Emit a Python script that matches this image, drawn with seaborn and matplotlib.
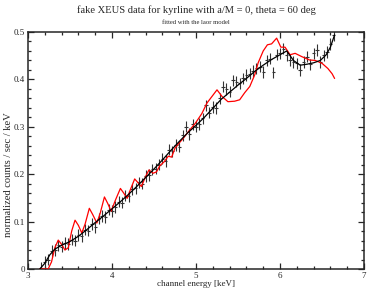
"""
plot.py - fake XEUS kyrline spectrum fitted with the laor model.
"""

import numpy as np
import pandas as pd
import matplotlib
matplotlib.use("Agg")
import matplotlib.pyplot as plt
from matplotlib.ticker import MultipleLocator
import seaborn as sns


# ── Data ──────────────────────────────────────────────────────────────────────

energy = [
    3.16, 3.20, 3.24, 3.28, 3.32, 3.36, 3.40, 3.44, 3.48, 3.52, 3.56, 3.60,
    3.64, 3.68, 3.72, 3.76, 3.80, 3.84, 3.88, 3.92, 3.96, 4.00, 4.04, 4.08,
    4.12, 4.16, 4.20, 4.24, 4.28, 4.32, 4.36, 4.40, 4.44, 4.48, 4.52, 4.56,
    4.60, 4.64, 4.68, 4.72, 4.76, 4.80, 4.84, 4.88, 4.92, 4.96, 5.00, 5.04,
    5.08, 5.12, 5.16, 5.20, 5.24, 5.28, 5.32, 5.36, 5.40, 5.44, 5.48, 5.52,
    5.56, 5.60, 5.64, 5.68, 5.72, 5.76, 5.80, 5.84, 5.88, 5.92, 5.96, 6.00,
    6.04, 6.08, 6.12, 6.16, 6.20, 6.24, 6.28, 6.32, 6.36, 6.40, 6.44, 6.48,
    6.52, 6.56, 6.60, 6.64,
]
counts = [
    0.002, 0.015, 0.020, 0.038, 0.040, 0.050, 0.047, 0.055, 0.053, 0.062, 0.060, 0.072,
    0.070, 0.083, 0.081, 0.095, 0.088, 0.106, 0.112, 0.110, 0.125, 0.122, 0.131, 0.142,
    0.140, 0.155, 0.153, 0.168, 0.170, 0.183, 0.180, 0.196, 0.198, 0.210, 0.212, 0.220,
    0.233, 0.228, 0.252, 0.248, 0.262, 0.258, 0.282, 0.300, 0.285, 0.305, 0.300, 0.306,
    0.318, 0.345, 0.330, 0.342, 0.340, 0.360, 0.385, 0.380, 0.374, 0.398, 0.395, 0.392,
    0.402, 0.409, 0.412, 0.418, 0.423, 0.427, 0.416, 0.440, 0.444, 0.415, 0.452, 0.455,
    0.465, 0.451, 0.441, 0.437, 0.434, 0.420, 0.437, 0.448, 0.432, 0.455, 0.462, 0.437,
    0.451, 0.458, 0.475, 0.494,
]
counts_err = 0.012
energy_err = 0.02

# kyrline model (black)
kyr_energy = [
    3.14, 3.20, 3.26, 3.32, 3.40, 3.50, 3.60, 3.70, 3.80, 3.90, 4.00, 4.10,
    4.20, 4.30, 4.40, 4.50, 4.60, 4.70, 4.80, 4.90, 5.00, 5.10, 5.20, 5.30,
    5.40, 5.50, 5.60, 5.70, 5.80, 5.90, 6.00, 6.08, 6.16, 6.24, 6.32, 6.40,
    6.48, 6.55, 6.60, 6.65,
]
kyr_model = [
    0.000, 0.012, 0.030, 0.042, 0.050, 0.058, 0.069, 0.083, 0.098, 0.112, 0.127, 0.142,
    0.158, 0.175, 0.193, 0.211, 0.230, 0.250, 0.269, 0.287, 0.303, 0.320, 0.339, 0.358,
    0.373, 0.388, 0.402, 0.417, 0.430, 0.442, 0.452, 0.460, 0.440, 0.430, 0.432, 0.435,
    0.440, 0.452, 0.468, 0.494,
]

# laor model (red)
laor_energy = [
    3.14, 3.24, 3.28, 3.32, 3.36, 3.40, 3.44, 3.48, 3.52, 3.56, 3.60, 3.64,
    3.68, 3.73, 3.77, 3.82, 3.86, 3.91, 3.95, 3.99, 4.04, 4.10, 4.14, 4.18,
    4.22, 4.27, 4.31, 4.35, 4.40, 4.44, 4.49, 4.53, 4.57, 4.62, 4.67, 4.71,
    4.75, 4.80, 4.85, 4.91, 4.99, 5.07, 5.13, 5.19, 5.25, 5.31, 5.38, 5.46,
    5.52, 5.58, 5.64, 5.70, 5.74, 5.80, 5.85, 5.90, 5.96, 6.01, 6.06, 6.12,
    6.18, 6.26, 6.35, 6.42, 6.50, 6.57, 6.62, 6.65,
]
laor_model = [
    0.000, 0.000, 0.015, 0.045, 0.061, 0.052, 0.040, 0.045, 0.080, 0.103, 0.092, 0.076,
    0.095, 0.128, 0.115, 0.097, 0.118, 0.152, 0.138, 0.122, 0.145, 0.170, 0.160, 0.149,
    0.168, 0.190, 0.182, 0.174, 0.195, 0.209, 0.202, 0.205, 0.218, 0.226, 0.238, 0.236,
    0.255, 0.266, 0.276, 0.290, 0.307, 0.328, 0.350, 0.364, 0.378, 0.364, 0.353, 0.354,
    0.357, 0.372, 0.385, 0.410, 0.435, 0.460, 0.473, 0.475, 0.487, 0.468, 0.468, 0.452,
    0.455, 0.448, 0.441, 0.440, 0.434, 0.423, 0.412, 0.402,
]

x_ticks = [3, 4, 5, 6, 7]
y_ticks = [0, 0.1, 0.2, 0.3, 0.4, 0.5]
y_tick_labels = ["0", "0.1", "0.2", "0.3", "0.4", "0.5"]


# ── Plot ──────────────────────────────────────────────────────────────────────

sns.set_style("ticks")
plt.rcParams["font.family"] = ["Liberation Serif", "DejaVu Serif"]

fig = plt.figure(figsize=(3.68, 2.92), dpi=100)
ax = fig.add_axes([28 / 368, 23 / 292, 336 / 368, 237 / 292])

data = pd.DataFrame({"energy": energy, "counts": counts})
kyr = pd.DataFrame({"energy": kyr_energy, "model": kyr_model})
laor = pd.DataFrame({"energy": laor_energy, "model": laor_model})

ax.errorbar(
    data["energy"], data["counts"],
    xerr=energy_err, yerr=counts_err,
    fmt="none", ecolor="#333333", elinewidth=0.8, capsize=0, zorder=2,
)
sns.lineplot(data=laor, x="energy", y="model", ax=ax, color="#ff0000",
             linewidth=0.9, sort=False, estimator=None, zorder=3)
sns.lineplot(data=kyr, x="energy", y="model", ax=ax, color="black",
             linewidth=0.9, sort=False, estimator=None, zorder=4)

ax.set_xlim(3, 7)
ax.set_ylim(0, 0.5)
ax.set_xticks(x_ticks)
ax.set_xticklabels([str(t) for t in x_ticks])
ax.set_yticks(y_ticks)
ax.set_yticklabels(y_tick_labels)
ax.xaxis.set_minor_locator(MultipleLocator(0.2))
ax.yaxis.set_minor_locator(MultipleLocator(0.02))
ax.tick_params(which="both", direction="in", top=True, right=True,
               labelsize=6.5, pad=2, width=0.9)
ax.tick_params(which="major", length=4.5)
ax.tick_params(which="minor", length=2.5)
for spine in ax.spines.values():
    spine.set_linewidth(1.1)
    spine.set_visible(True)

ax.set_xlabel("channel energy [keV]", fontsize=6.5, labelpad=0)
ax.set_ylabel("normalized counts / sec / keV", fontsize=7.6)
ax.yaxis.set_label_coords(-0.045, 0.40)

# titles are centred over the plot area, not the whole figure
ax.text(0.5, 1.093, "fake XEUS data for kyrline with a/M = 0, theta = 60 deg",
        transform=ax.transAxes, ha="center", va="center", fontsize=7.6)
ax.text(0.5, 1.042, "fitted with the laor model",
        transform=ax.transAxes, ha="center", va="center", fontsize=4.8)

fig.savefig("out.png", dpi=100)
plt.close(fig)
